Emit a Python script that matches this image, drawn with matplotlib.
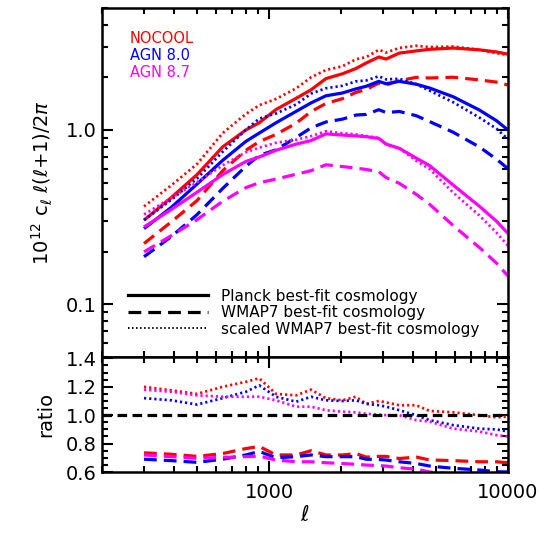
import numpy as np
import matplotlib
matplotlib.use("Agg")
import matplotlib.pyplot as plt
from matplotlib.lines import Line2D
from matplotlib.ticker import FixedLocator, NullFormatter, LogLocator, MultipleLocator, FuncFormatter

# ---------------- data ----------------
ell = [300, 390, 500, 640, 800, 910, 1070, 1300, 1500, 1730, 2030, 2310,
       2550, 2880, 3090, 3510, 4130, 4700, 5900, 7600, 8950, 10000]

# Planck best-fit cosmology, 10^12 C_l l(l+1)/2pi
nocool_planck = [0.304, 0.41, 0.555, 0.80, 1.00, 1.10, 1.31, 1.52, 1.70, 1.97, 2.10, 2.25,
                 2.42, 2.62, 2.55, 2.76, 2.84, 2.90, 2.95, 2.88, 2.80, 2.72]
agn80_planck = [0.272, 0.36, 0.49, 0.67, 0.86, 0.96, 1.10, 1.28, 1.43, 1.57, 1.63, 1.72,
                1.78, 1.90, 1.84, 1.90, 1.83, 1.74, 1.55, 1.30, 1.13, 1.00]
agn87_planck = [0.278, 0.35, 0.44, 0.555, 0.66, 0.70, 0.765, 0.83, 0.87, 0.95, 0.935, 0.925,
                0.915, 0.895, 0.83, 0.785, 0.69, 0.625, 0.483, 0.365, 0.30, 0.255]

# ratio WMAP7 / Planck
nocool_wmap7_ratio = [0.735, 0.725, 0.71, 0.73, 0.765, 0.78, 0.72, 0.72, 0.75, 0.72, 0.72, 0.73,
                      0.705, 0.71, 0.71, 0.695, 0.705, 0.685, 0.68, 0.672, 0.672, 0.665]
agn80_wmap7_ratio = [0.69, 0.68, 0.668, 0.69, 0.72, 0.745, 0.70, 0.708, 0.72, 0.708, 0.708, 0.708,
                     0.69, 0.688, 0.684, 0.672, 0.66, 0.642, 0.626, 0.614, 0.602, 0.60]
agn87_wmap7_ratio = [0.72, 0.708, 0.696, 0.703, 0.708, 0.712, 0.684, 0.672, 0.672, 0.665, 0.66, 0.654,
                     0.649, 0.645, 0.642, 0.63, 0.62, 0.60, 0.586, 0.58, 0.575, 0.57]

# ratio scaled WMAP7 / Planck
nocool_scaled_ratio = [1.20, 1.175, 1.15, 1.20, 1.235, 1.26, 1.15, 1.14, 1.18, 1.12, 1.105, 1.13,
                       1.08, 1.10, 1.09, 1.07, 1.07, 1.03, 1.02, 1.00, 0.985, 0.99]
agn80_scaled_ratio = [1.12, 1.105, 1.075, 1.12, 1.165, 1.21, 1.13, 1.095, 1.13, 1.105, 1.10, 1.105,
                      1.08, 1.07, 1.06, 1.035, 1.00, 0.965, 0.93, 0.905, 0.90, 0.885]
agn87_scaled_ratio = [1.18, 1.165, 1.14, 1.13, 1.13, 1.13, 1.105, 1.06, 1.06, 1.035, 1.025, 1.02,
                      1.01, 1.005, 1.00, 1.00, 0.965, 0.955, 0.905, 0.885, 0.86, 0.85]

models = ["NOCOOL", "AGN 8.0", "AGN 8.7"]
colors = ["#ff0000", "#0000ff", "#ff00ff"]
planck = [nocool_planck, agn80_planck, agn87_planck]
wmap7_ratio = [nocool_wmap7_ratio, agn80_wmap7_ratio, agn87_wmap7_ratio]
scaled_ratio = [nocool_scaled_ratio, agn80_scaled_ratio, agn87_scaled_ratio]
style_labels = ["Planck best-fit cosmology", "WMAP7 best-fit cosmology",
                "scaled WMAP7 best-fit cosmology"]

# ---------------- figure ----------------
plt.rcParams['font.family'] = ['DejaVu Sans']
plt.rcParams['mathtext.fontset'] = 'dejavusans'

fig = plt.figure(figsize=(5.54, 5.36), dpi=100)
ax = fig.add_axes([0.184, 0.334, 0.733, 0.651])
axr = fig.add_axes([0.184, 0.1194, 0.733, 0.2146], sharex=ax)

LW = 2.3
dash = (4.0, 2.2)
dot = (0.8, 1.1)

x = np.array(ell, dtype=float)
for c, p, rw, rs in zip(colors, planck, wmap7_ratio, scaled_ratio):
    p = np.array(p)
    ax.plot(x, p, color=c, lw=LW, solid_capstyle='butt')
    ax.plot(x, p * np.array(rw), color=c, lw=LW, dashes=dash)
    ax.plot(x, p * np.array(rs), color=c, lw=LW * 0.85, dashes=dot)
    axr.plot(x, rs, color=c, lw=LW * 0.85, dashes=dot)
    axr.plot(x, rw, color=c, lw=LW, dashes=dash)

axr.axhline(1.0, color='black', lw=LW, dashes=(3.0, 1.7))

ax.set_xscale('log')
ax.set_yscale('log')
ax.set_xlim(200, 10000)
ax.set_ylim(0.05, 5.0)
axr.set_ylim(0.6, 1.41)

for a in (ax, axr):
    for s in a.spines.values():
        s.set_linewidth(1.8)
    a.tick_params(which='both', direction='in', top=True, right=True, width=1.5, labelsize=14)
    a.tick_params(which='major', length=8)
    a.tick_params(which='minor', length=4.5)
    a.xaxis.set_major_locator(FixedLocator([1000, 10000]))
    a.xaxis.set_minor_locator(LogLocator(base=10, subs=np.arange(2, 10), numticks=20))
    a.xaxis.set_minor_formatter(NullFormatter())

ax.yaxis.set_major_locator(FixedLocator([0.1, 1.0]))
ax.yaxis.set_minor_locator(LogLocator(base=10, subs=np.arange(2, 10), numticks=20))
ax.yaxis.set_minor_formatter(NullFormatter())
ax.yaxis.set_major_formatter(FuncFormatter(lambda v, pos: f"{v:.1f}"))
plt.setp(ax.get_xticklabels(), visible=False)

axr.yaxis.set_major_locator(FixedLocator([0.6, 0.8, 1.0, 1.2, 1.4]))
axr.yaxis.set_minor_locator(MultipleLocator(0.05))
axr.yaxis.set_major_formatter(FuncFormatter(lambda v, pos: f"{v:.1f}"))
axr.xaxis.set_major_formatter(FuncFormatter(lambda v, pos: f"{int(round(v))}"))
axr.tick_params(axis='x', pad=8)

ax.set_ylabel(r"$10^{12}$ c$_\ell$ $\ell(\ell$+1)/2$\pi$", fontsize=14, labelpad=8)
axr.set_ylabel("ratio", fontsize=14, labelpad=8)
axr.set_xlabel(r"$\ell$", fontsize=15, labelpad=2)
fig.align_ylabels([ax, axr])

# model colour labels
for i, (m, c) in enumerate(zip(models, colors)):
    ax.text(0.069, 0.914 - 0.049 * i, m, color=c, fontsize=10.5, transform=ax.transAxes,
            va='center', ha='left')

# line-style legend
handles = [Line2D([], [], color='black', lw=LW),
           Line2D([], [], color='black', lw=LW, dashes=dash),
           Line2D([], [], color='black', lw=LW * 0.6, dashes=(0.8, 1.3))]
ax.legend(handles, style_labels, loc='lower left', bbox_to_anchor=(0.065, 0.058),
          frameon=False, fontsize=11, handlelength=5.2, handletextpad=0.85,
          labelspacing=0.1, borderpad=0, borderaxespad=0)

fig.savefig("out.png", dpi=100)
